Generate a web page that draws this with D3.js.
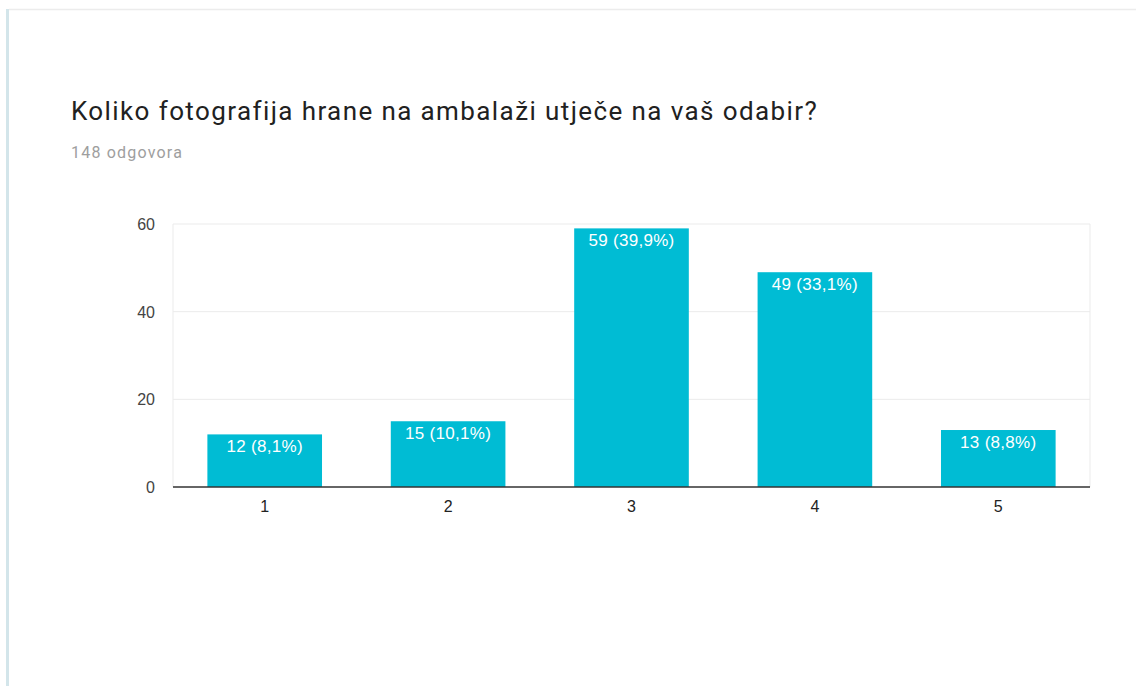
<!DOCTYPE html>
<html>
<head>
<meta charset="utf-8">
<script src="https://cdn.jsdelivr.net/npm/d3@7"></script>
<style>
  body { margin: 0; background: #fff; }
  svg text { font-family: Roboto, Arial, sans-serif; }
  svg text.num { font-family: "Liberation Sans", Arial, sans-serif; }
</style>
</head>
<body>
<svg id="chart"></svg>
<script>
// Chart data
const categories = ['1', '2', '3', '4', '5'];
const counts = [12, 15, 59, 49, 13];
const percents = ['8,1', '10,1', '39,9', '33,1', '8,8'];
const yTicks = [0, 20, 40, 60];

const title = 'Koliko fotografija hrane na ambalaži utječe na vaš odabir?';
const subtitle = '148 odgovora';

const width = 1136;
const height = 686;
const margin = { top: 224, right: 46, bottom: 199, left: 173 };

const svg = d3.select('#chart')
    .attr('width', width)
    .attr('height', height);

// Card borders
svg.append('rect')
    .attr('x', 6).attr('y', 9)
    .attr('width', 3).attr('height', height - 9)
    .attr('fill', '#d3e5ea');
svg.append('line')
    .attr('x1', 9).attr('x2', width)
    .attr('y1', 9.5).attr('y2', 9.5)
    .attr('stroke', '#ececec')
    .attr('stroke-width', 1.5);

// Titles
svg.append('text')
    .attr('x', 71)
    .attr('y', 120)
    .attr('font-size', '26px')
    .attr('letter-spacing', '1.4px')
    .attr('fill', '#212121')
    .text(title);

svg.append('text')
    .attr('x', 71)
    .attr('y', 158)
    .attr('font-size', '16px')
    .attr('letter-spacing', '1.2px')
    .attr('fill', '#9e9e9e')
    .text(subtitle);

const innerW = width - margin.left - margin.right;
const innerH = height - margin.top - margin.bottom;

const x = d3.scaleBand()
    .domain(categories)
    .range([margin.left, margin.left + innerW])
    .paddingInner(0.375)
    .paddingOuter(0.1875);

const y = d3.scaleLinear()
    .domain([0, 60])
    .range([margin.top + innerH, margin.top]);

// Grid lines
svg.append('g')
    .selectAll('line')
    .data(yTicks.filter(d => d > 0))
    .join('line')
    .attr('x1', margin.left)
    .attr('x2', margin.left + innerW)
    .attr('y1', d => y(d))
    .attr('y2', d => y(d))
    .attr('stroke', '#ebebeb')
    .attr('stroke-width', 1);

// Plot frame edges
svg.append('line')
    .attr('x1', margin.left).attr('x2', margin.left)
    .attr('y1', y(60)).attr('y2', y(0))
    .attr('stroke', '#ebebeb');
svg.append('line')
    .attr('x1', margin.left + innerW).attr('x2', margin.left + innerW)
    .attr('y1', y(60)).attr('y2', y(0))
    .attr('stroke', '#ebebeb');

// Y tick labels
svg.append('g')
    .selectAll('text')
    .data(yTicks)
    .join('text')
    .attr('class', 'num')
    .attr('x', margin.left - 18)
    .attr('y', d => y(d) + 6)
    .attr('text-anchor', 'end')
    .attr('font-size', '16px')
    .attr('fill', '#444')
    .text(d => d);

// Bars
const data = categories.map((c, i) => ({ cat: c, count: counts[i], pct: percents[i] }));

svg.append('g')
    .selectAll('rect')
    .data(data)
    .join('rect')
    .attr('x', d => x(d.cat))
    .attr('y', d => y(d.count))
    .attr('width', x.bandwidth())
    .attr('height', d => y(0) - y(d.count))
    .attr('fill', '#00bcd4');

// Bar labels
svg.append('g')
    .selectAll('text')
    .data(data)
    .join('text')
    .attr('class', 'num')
    .attr('x', d => x(d.cat) + x.bandwidth() / 2)
    .attr('y', d => y(d.count) + 18)
    .attr('text-anchor', 'middle')
    .attr('font-size', '17px')
    .attr('letter-spacing', '0.3px')
    .attr('fill', '#fff')
    .text(d => `${d.count} (${d.pct}%)`);

// Baseline
svg.append('line')
    .attr('x1', margin.left).attr('x2', margin.left + innerW)
    .attr('y1', y(0)).attr('y2', y(0))
    .attr('stroke', '#333')
    .attr('stroke-width', 1.5);

// X tick labels
svg.append('g')
    .selectAll('text')
    .data(categories)
    .join('text')
    .attr('class', 'num')
    .attr('x', d => x(d) + x.bandwidth() / 2)
    .attr('y', y(0) + 25)
    .attr('text-anchor', 'middle')
    .attr('font-size', '16px')
    .attr('fill', '#222')
    .text(d => d);
</script>
</body>
</html>
